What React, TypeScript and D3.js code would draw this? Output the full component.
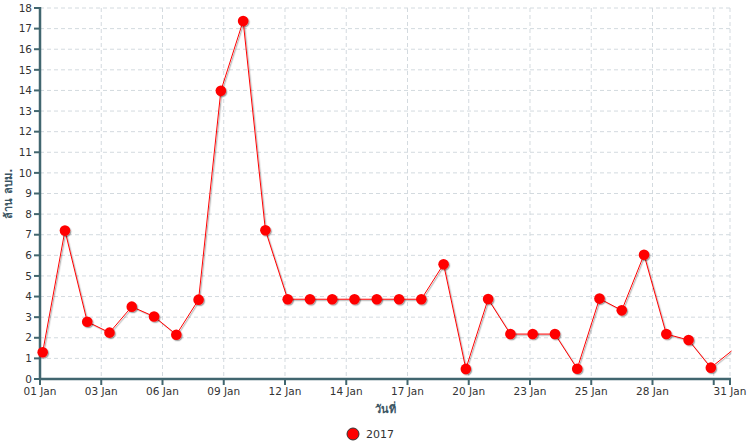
import React from "react";
import * as d3 from "d3";

const seriesName = "2017";
const values: number[] = [
  1.3, 7.2, 2.78, 2.25, 3.51, 3.03, 2.15, 3.85, 13.98, 17.37, 7.22,
  3.87, 3.87, 3.87, 3.87, 3.87, 3.87, 3.87, 5.57, 0.49, 3.88, 2.18,
  2.18, 2.18, 0.5, 3.9, 3.33, 6.03, 2.18, 1.89, 0.55, 1.42,
];
const xTickLabels: string[] = [
  "01 Jan", "03 Jan", "06 Jan", "09 Jan", "12 Jan", "14 Jan", "17 Jan",
  "20 Jan", "23 Jan", "25 Jan", "28 Jan", "",
];
const xEndLabel = "31 Jan";
const yTicks: number[] = d3.range(0, 19);
const yTitle = "ล้าน ลบม.";
const xTitle = "วันที่";

const W = 748;
const H = 445;
const left = 40;
const right = 730;
const top = 8;
const bottom = 379;

export default function App() {
  const x = d3.scaleLinear().domain([-0.12, 30.86]).range([left, right]);
  const y = d3.scaleLinear().domain([0, 18]).range([bottom, top]);
  const tickStep = 2.75;
  const xTicks = xTickLabels.map((l, k) => ({ v: -0.12 + k * tickStep, l }));
  const line = d3
    .line<number>()
    .x((_, i) => x(i))
    .y((d) => y(d));
  const axisColor = "#41666f";
  const gridColor = "#d3dadf";
  const font = "'DejaVu Sans', Verdana, sans-serif";
  const titleFont = "Tahoma, 'DejaVu Sans', sans-serif";
  const [d0, d1] = x.domain();
  return (
    <svg
      width={W}
      height={H}
      style={{ position: "absolute", left: 0, top: 0, background: "#fff" }}
    >
      <defs>
        <clipPath id="plot">
          <rect x={left} y={0} width={right - left + 1.5} height={bottom} />
        </clipPath>
        <filter id="shadow" x="-20%" y="-20%" width="150%" height="150%">
          <feDropShadow dx="1.2" dy="1.2" stdDeviation="0.7" floodColor="#000" floodOpacity="0.35" />
        </filter>
      </defs>
      {yTicks.map((t) => (
        <line
          key={"hg" + t}
          x1={left}
          x2={right}
          y1={y(t)}
          y2={y(t)}
          stroke={gridColor}
          strokeDasharray="4,3"
          strokeWidth={1}
        />
      ))}
      {xTicks.map((t, k) => (
        <line
          key={"vg" + k}
          x1={x(t.v)}
          x2={x(t.v)}
          y1={top}
          y2={bottom}
          stroke={gridColor}
          strokeDasharray="4,3"
          strokeWidth={1}
        />
      ))}
      <line x1={right} x2={right} y1={top} y2={bottom} stroke={gridColor} strokeDasharray="4,3" />
      <line x1={left} x2={left} y1={top - 1} y2={bottom + 1} stroke={axisColor} strokeWidth={2.5} />
      {yTicks.map((t) => (
        <g key={"yt" + t}>
          <line x1={left - 6} x2={left} y1={y(t)} y2={y(t)} stroke={axisColor} strokeWidth={2} />
          <text
            x={left - 8}
            y={y(t)}
            dy="0.35em"
            textAnchor="end"
            fontFamily={font}
            fontSize={10.5}
            fill="#333"
          >
            {t}
          </text>
        </g>
      ))}
      <line x1={left - 1} x2={right + 1} y1={bottom} y2={bottom} stroke={axisColor} strokeWidth={2.5} />
      {xTicks.map((t, k) => (
        <g key={"xt" + k}>
          <line x1={x(t.v)} x2={x(t.v)} y1={bottom} y2={bottom + 6} stroke={axisColor} strokeWidth={2} />
          <text
            x={x(t.v)}
            y={bottom + 16}
            textAnchor="middle"
            fontFamily={font}
            fontSize={10.5}
            fill="#333"
          >
            {t.l}
          </text>
        </g>
      ))}
      <line x1={right} x2={right} y1={bottom} y2={bottom + 6} stroke={axisColor} strokeWidth={2} />
      <text x={right} y={bottom + 16} textAnchor="middle" fontFamily={font} fontSize={10.5} fill="#333">
        {xEndLabel}
      </text>
      <g clipPath="url(#plot)">
        <path d={line(values) || ""} fill="none" stroke="#ff0000" strokeWidth={1} filter="url(#shadow)" />
      </g>
      {values.map((v, i) =>
        i >= d0 && i <= d1 ? (
          <circle key={i} cx={x(i)} cy={y(v)} r={5.3} fill="#ff0000" filter="url(#shadow)" />
        ) : null
      )}
      <text
        transform={`translate(12, ${(top + bottom) / 2}) rotate(-90)`}
        textAnchor="middle"
        fontFamily={titleFont}
        fontSize={11}
        fontWeight="bold"
        fill="#3b5563"
      >
        {yTitle}
      </text>
      <text
        x={(left + right) / 2}
        y={413}
        textAnchor="middle"
        fontFamily={titleFont}
        fontSize={11}
        fontWeight="bold"
        fill="#3b5563"
      >
        {xTitle}
      </text>
      <circle cx={353} cy={434} r={6} fill="#ff0000" stroke="#333" strokeWidth={1} />
      <text x={366} y={438} fontFamily={font} fontSize={11} fill="#333">
        {seriesName}
      </text>
    </svg>
  );
}
